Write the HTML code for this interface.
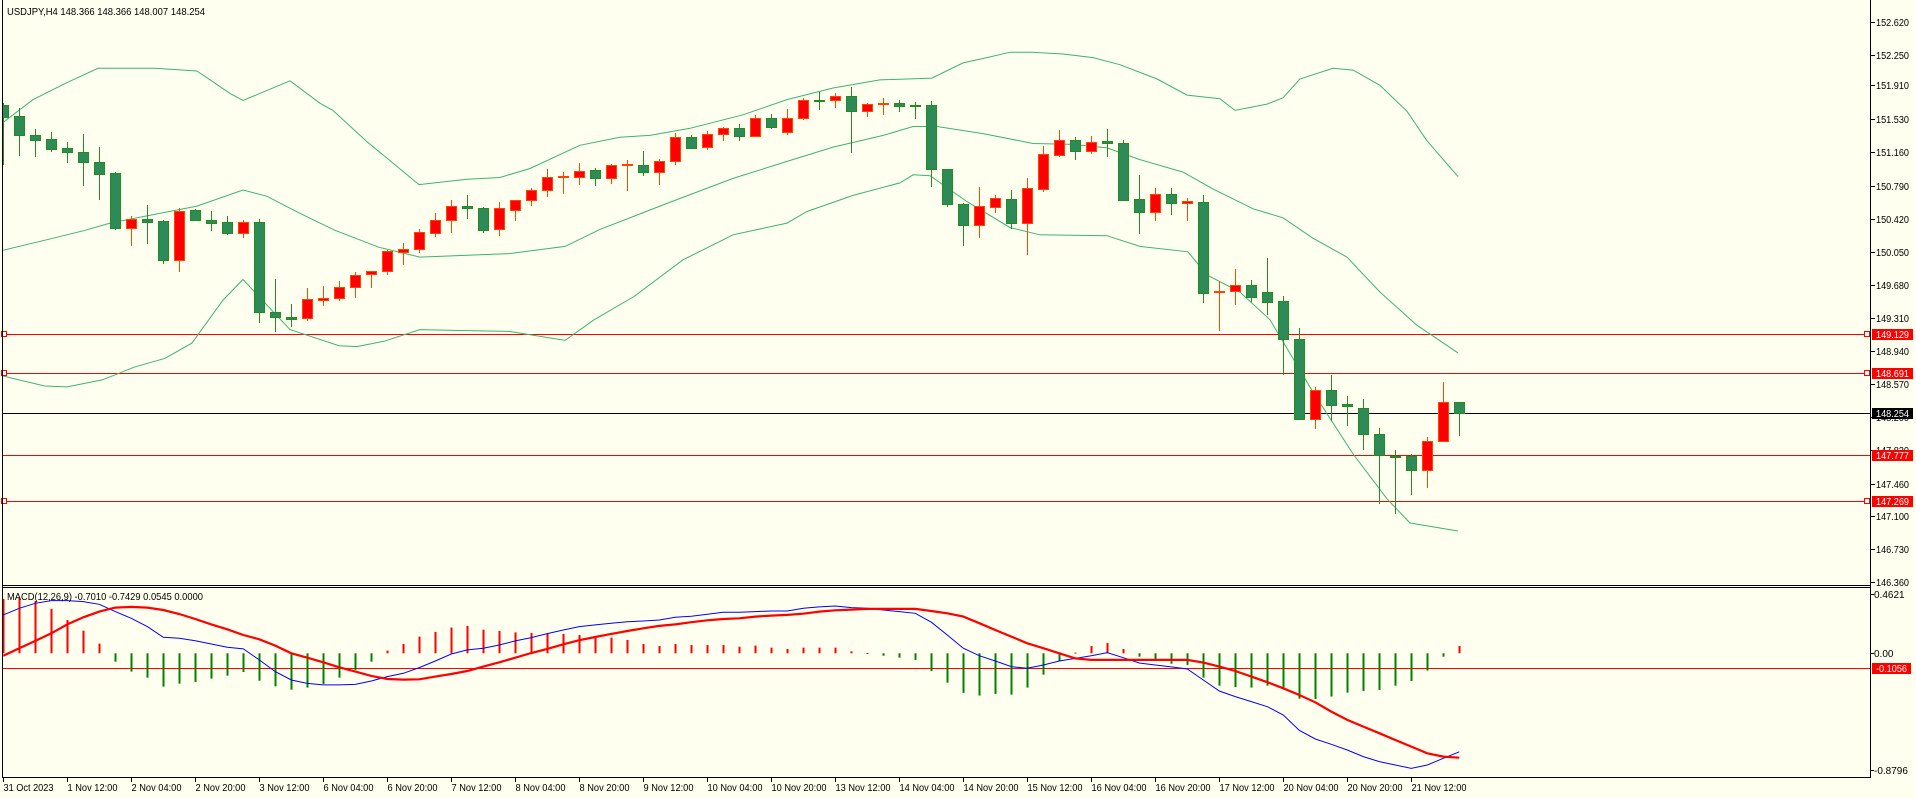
<!DOCTYPE html>
<html><head><meta charset="utf-8"><style>
html,body{margin:0;padding:0;background:#FFFFF0;}
svg{display:block;font-family:"Liberation Sans",sans-serif;}
</style></head><body>
<svg id="chart" width="1916" height="798" viewBox="0 0 1916 798" xmlns="http://www.w3.org/2000/svg">
<rect x="0" y="0" width="1916" height="798" fill="#FFFFF0"/>
<defs>
<clipPath id="mainClip"><rect x="3" y="0" width="1867" height="585"/></clipPath>
<clipPath id="macdClip"><rect x="3" y="588" width="1867" height="189"/></clipPath>
</defs>
<g id="mainG" clip-path="url(#mainClip)"></g>
<g id="macdG" clip-path="url(#macdClip)"></g>
<g id="axisG"></g>
<text x="7" y="15" font-size="10.5" textLength="198" lengthAdjust="spacingAndGlyphs" fill="#000">USDJPY,H4  148.366 148.366 148.007 148.254</text>
<text x="7" y="600" font-size="10.5" textLength="196" lengthAdjust="spacingAndGlyphs" fill="#000">MACD(12,26,9) -0.7010 -0.7429 0.0545 0.0000</text>
</svg>
<script>
const opens = [151.69,151.57,151.35,151.31,151.21,151.16,151.05,150.93,150.32,150.42,150.39,149.96,150.52,150.41,150.38,150.26,150.38,149.38,149.32,149.31,149.51,149.53,149.66,149.80,149.84,150.05,150.08,150.26,150.41,150.56,150.54,150.30,150.52,150.63,150.74,150.88,150.89,150.96,150.87,151.02,151.02,150.94,151.06,151.33,151.22,151.37,151.43,151.34,151.54,151.39,151.55,151.75,151.75,151.79,151.62,151.70,151.71,151.69,151.69,150.98,150.58,150.35,150.55,150.64,150.37,150.75,151.13,151.30,151.18,151.29,151.26,150.64,150.49,150.69,150.60,150.61,149.60,149.61,149.68,149.60,149.50,149.07,148.18,148.50,148.35,148.31,148.01,147.77,147.77,147.61,147.94,148.366];
const highs = [151.71,151.66,151.42,151.39,151.28,151.37,151.22,150.94,150.45,150.57,150.41,150.54,150.53,150.51,150.45,150.40,150.42,149.75,149.47,149.65,149.67,149.72,149.82,149.84,150.07,150.15,150.30,150.48,150.63,150.68,150.55,150.61,150.63,150.76,150.97,150.94,151.04,150.99,151.03,151.08,151.18,151.09,151.38,151.35,151.40,151.44,151.48,151.58,151.59,151.65,151.77,151.83,151.82,151.89,151.71,151.77,151.75,151.72,151.73,150.98,150.59,150.77,150.68,150.74,150.87,151.23,151.41,151.33,151.34,151.42,151.30,150.91,150.76,150.76,150.65,150.68,149.72,149.86,149.73,149.98,149.56,149.20,148.54,148.67,148.44,148.40,148.08,147.83,147.79,147.98,148.59,148.366];
const lows = [151.03,151.13,151.12,151.18,151.05,150.80,150.64,150.30,150.13,150.15,149.93,149.83,150.40,150.29,150.25,150.22,149.27,149.17,149.22,149.29,149.46,149.51,149.54,149.66,149.80,149.91,150.05,150.23,150.27,150.43,150.27,150.24,150.41,150.57,150.67,150.71,150.81,150.80,150.82,150.74,150.91,150.81,151.03,151.21,151.20,151.30,151.30,151.34,151.43,151.37,151.53,151.65,151.67,151.16,151.57,151.59,151.62,151.54,150.78,150.56,150.13,150.22,150.49,150.32,150.03,150.73,151.12,151.09,151.15,151.12,150.63,150.26,150.40,150.47,150.40,149.49,149.18,149.47,149.50,149.36,148.68,148.18,148.08,148.17,148.11,147.85,147.24,147.13,147.34,147.42,147.94,148.007];
const closes = [151.56,151.35,151.30,151.20,151.16,151.05,150.92,150.32,150.42,150.38,149.96,150.51,150.41,150.37,150.26,150.38,149.38,149.32,149.30,149.52,149.53,149.66,149.79,149.84,150.06,150.08,150.27,150.41,150.56,150.54,150.29,150.54,150.63,150.74,150.88,150.90,150.95,150.87,151.02,151.03,150.94,151.06,151.33,151.21,151.37,151.43,151.34,151.54,151.44,151.55,151.75,151.75,151.79,151.62,151.70,151.71,151.68,151.68,150.98,150.58,150.35,150.56,150.65,150.37,150.76,151.14,151.30,151.18,151.28,151.26,150.63,150.49,150.70,150.60,150.62,149.59,149.61,149.68,149.55,149.49,149.07,148.18,148.50,148.34,148.33,148.01,147.78,147.76,147.61,147.94,148.37,148.254];

const upperIdx = [-0.2,1.86,3.98,5.92,9.48,12.1,14.17,14.98,17.92,19.79,20.6,22.73,25.98,28.98,31.04,32.92,36.04,38.54,40.42,42.92,46.23,48.98,51.86,54.79,58.04,59.98,61.48,62.92,64.29,66.23,68.11,69.79,72.11,73.98,76.04,76.98,78.98,79.98,81.04,83.1,84.36,86.04,87.73,88.98,90.92];
const upperBand = [151.47,151.75,151.94,152.10,152.10,152.07,151.82,151.74,151.96,151.71,151.63,151.28,150.80,150.86,150.88,150.98,151.24,151.33,151.35,151.43,151.58,151.75,151.88,151.97,151.99,152.16,152.22,152.28,152.28,152.26,152.22,152.14,151.98,151.80,151.76,151.63,151.70,151.77,151.98,152.10,152.08,151.91,151.62,151.29,150.89];
const middleIdx = [-0.2,2.86,5.11,6.67,12.1,14.98,16.48,18.54,20.73,23.48,26.04,31.61,35.11,37.29,41.48,45.61,48.98,51.86,55.0,56.86,58.36,61.23,64.36,66.86,68.98,71.04,73.73,75.61,78.11,79.98,81.86,83.98,86.04,88.35,90.92];
const middleBand = [150.06,150.19,150.29,150.37,150.56,150.74,150.67,150.48,150.29,150.10,149.99,150.03,150.11,150.30,150.59,150.87,151.06,151.22,151.35,151.45,151.45,151.37,151.26,151.25,151.21,151.08,150.94,150.75,150.53,150.43,150.20,149.99,149.60,149.23,148.92];
const lowerIdx = [-0.2,2.58,3.98,6.21,8.17,10.11,11.79,13.73,14.98,17.92,20.98,22.1,23.79,26.04,28.54,31.61,35.11,36.92,39.42,42.48,45.61,48.98,50.23,53.11,56.04,56.86,57.92,60.23,62.92,64.79,68.98,71.04,74.04,75.23,77.29,79.17,81.86,84.36,86.48,87.92,90.92];
const lowerBand = [148.67,148.55,148.54,148.62,148.76,148.86,149.03,149.51,149.74,149.18,149.00,148.99,149.05,149.18,149.17,149.16,149.06,149.29,149.55,149.96,150.24,150.37,150.50,150.68,150.82,150.91,150.90,150.61,150.32,150.24,150.23,150.11,150.05,149.79,149.60,149.29,148.48,147.79,147.29,147.02,146.93];

const hist = [0.387,0.396,0.372,0.316,0.237,0.161,0.069,-0.059,-0.130,-0.173,-0.237,-0.216,-0.204,-0.180,-0.159,-0.133,-0.195,-0.235,-0.259,-0.244,-0.218,-0.173,-0.119,-0.059,0.019,0.066,0.119,0.152,0.183,0.195,0.168,0.159,0.149,0.145,0.142,0.138,0.130,0.116,0.112,0.095,0.066,0.052,0.066,0.059,0.059,0.059,0.047,0.055,0.040,0.031,0.040,0.040,0.040,0.014,0.002,-0.017,-0.031,-0.047,-0.126,-0.209,-0.282,-0.301,-0.289,-0.294,-0.244,-0.152,-0.057,0.005,0.052,0.074,0.031,-0.024,-0.040,-0.074,-0.083,-0.173,-0.230,-0.240,-0.244,-0.230,-0.251,-0.323,-0.325,-0.308,-0.280,-0.268,-0.261,-0.230,-0.197,-0.123,-0.024,0.052];
const macdMain = [0.273,0.320,0.356,0.375,0.375,0.368,0.349,0.297,0.249,0.190,0.114,0.107,0.090,0.066,0.043,0.031,-0.047,-0.130,-0.190,-0.214,-0.225,-0.225,-0.221,-0.197,-0.166,-0.142,-0.102,-0.055,-0.005,0.024,0.036,0.059,0.088,0.112,0.140,0.166,0.190,0.202,0.214,0.225,0.230,0.237,0.256,0.263,0.278,0.292,0.292,0.297,0.301,0.301,0.320,0.330,0.337,0.325,0.320,0.308,0.297,0.285,0.221,0.130,0.036,-0.017,-0.055,-0.095,-0.107,-0.083,-0.055,-0.036,-0.017,0.005,-0.031,-0.069,-0.083,-0.097,-0.112,-0.190,-0.268,-0.308,-0.344,-0.380,-0.439,-0.548,-0.610,-0.648,-0.688,-0.735,-0.771,-0.795,-0.819,-0.795,-0.747,-0.701];
const macdSignal = [-0.017,0.036,0.088,0.142,0.206,0.256,0.297,0.325,0.330,0.325,0.308,0.280,0.244,0.206,0.171,0.130,0.100,0.055,0.000,-0.031,-0.064,-0.100,-0.130,-0.161,-0.183,-0.187,-0.185,-0.166,-0.147,-0.126,-0.095,-0.064,-0.031,0.002,0.031,0.064,0.093,0.116,0.138,0.159,0.178,0.195,0.206,0.221,0.235,0.244,0.249,0.261,0.268,0.273,0.282,0.297,0.306,0.311,0.316,0.316,0.316,0.316,0.301,0.285,0.261,0.214,0.166,0.119,0.071,0.036,0.000,-0.036,-0.047,-0.047,-0.047,-0.047,-0.047,-0.047,-0.047,-0.066,-0.095,-0.126,-0.166,-0.206,-0.249,-0.297,-0.349,-0.415,-0.474,-0.522,-0.569,-0.617,-0.664,-0.712,-0.735,-0.743];

const priceTicks = ['152.620','152.250','151.910','151.530','151.160','150.790','150.420','150.050','149.680','149.310','148.940','148.570','148.200','147.830','147.460','147.100','146.730','146.360'];
const timeLabels = ['31 Oct 2023','1 Nov 12:00','2 Nov 04:00','2 Nov 20:00','3 Nov 12:00','6 Nov 04:00','6 Nov 20:00','7 Nov 12:00','8 Nov 04:00','8 Nov 20:00','9 Nov 12:00','10 Nov 04:00','10 Nov 20:00','13 Nov 12:00','14 Nov 04:00','14 Nov 20:00','15 Nov 12:00','16 Nov 04:00','16 Nov 20:00','17 Nov 12:00','20 Nov 04:00','20 Nov 20:00','21 Nov 12:00'];
const levelLines = [149.129,148.691,147.777,147.269];
const levelMarkers = [true,true,false,true];
const currentPrice = 148.254;
const macdLevel = -0.1056;
const macdAxisTicks = ['0.4621','0.00','-0.8796'];
const macdAxisVals = [0.4621,0,-0.8796];

const NS='http://www.w3.org/2000/svg';
const priceY = p => 318 + (149.31 - p) * 89.5;
const macdY = v => 653.3 - v * 140.5;
const xRaw = i => 3.3 + 16 * i;
const xAt = i => Math.floor(xRaw(i)) + 0.5;
function mk(tag, attrs, parent){const e=document.createElementNS(NS,tag);for(const k in attrs)e.setAttribute(k,attrs[k]);parent.appendChild(e);return e;}
const mainG=document.getElementById('mainG'), macdG=document.getElementById('macdG'), axisG=document.getElementById('axisG');

// horizontal level lines
levelLines.forEach((v,k)=>{
  const y=Math.round(priceY(v))+0.5;
  const l=mk('line',{x1:3,x2:1870,y1:y,y2:y,stroke:'#FF0000','stroke-width':1},mainG);
  
  
});
{
  const y=Math.round(priceY(currentPrice))+0.5;
  const l=mk('line',{x1:3,x2:1870,y1:y,y2:y,stroke:'#000','stroke-width':1},mainG);
  
  
}

// bands
function bandPath(idx, vals, name){
  const pts=idx.map((d,k)=>xRaw(d).toFixed(1)+','+priceY(vals[k]).toFixed(1)).join(' ');
  const p=mk('polyline',{points:pts,fill:'none',stroke:'#3CB371','stroke-width':1},mainG);
  
  
}
bandPath(upperIdx,upperBand,'bollinger-upper');
bandPath(middleIdx,middleBand,'bollinger-middle');
bandPath(lowerIdx,lowerBand,'bollinger-lower');

// candles
opens.forEach((o,i)=>{
  const c=closes[i], h=highs[i], l=lows[i];
  const up=c>o;
  const edge=up?'#FF4500':'#228B22', fill=up?'#FF0000':'#2E8B57';
  const cx=xAt(i);
  const g=mk('g',{},mainG);
  
  
  mk('line',{x1:cx,x2:cx,y1:Math.round(priceY(h)),y2:Math.round(priceY(l))+1,stroke:edge,'stroke-width':1},g);
  const yt=Math.round(priceY(Math.max(o,c))), yb=Math.round(priceY(Math.min(o,c)));
  if(yb-yt<2){
    mk('rect',{x:cx-5.5,y:yt,width:11,height:Math.max(2,yb-yt+1),fill:edge},g);
  } else {
    mk('rect',{x:cx-5,y:yt+0.5,width:10,height:yb-yt,fill:fill,stroke:edge,'stroke-width':1},g);
  }
});

// left/right markers
levelLines.forEach((v,k)=>{
  if(!levelMarkers[k])return;
  const y=Math.round(priceY(v));
  const a=mk('rect',{x:1.5,y:y-2.5,width:5,height:5,fill:'#FFF',stroke:'#FF0000','stroke-width':1},axisG);
  
  
  const b=mk('rect',{x:1864.5,y:y-2.5,width:5,height:5,fill:'#FFF',stroke:'#FF0000','stroke-width':1},axisG);
  
  
});

// MACD
{
  const y=Math.round(macdY(macdLevel))+0.5;
  const l=mk('line',{x1:3,x2:1870,y1:y,y2:y,stroke:'#FF0000','stroke-width':1},macdG);
  
  
}
hist.forEach((v,i)=>{
  const y0=macdY(0), y1=macdY(v);
  const r=mk('rect',{x:xAt(i)-1,y:Math.min(y0,y1),width:2,height:Math.max(1,Math.abs(y1-y0)),fill:v>=0?'#FF0000':'#008000'},macdG);
  
  
});
{
  const pm=mk('polyline',{points:macdMain.map((v,i)=>xRaw(i).toFixed(1)+','+macdY(v).toFixed(1)).join(' '),fill:'none',stroke:'#0000FF','stroke-width':1},macdG);
  
  
  const ps=mk('polyline',{points:macdSignal.map((v,i)=>xRaw(i).toFixed(1)+','+macdY(v).toFixed(1)).join(' '),fill:'none',stroke:'#FF0000','stroke-width':2.2},macdG);
  
  
}

// frame
[[2.5,0,2.5,778],[1870.5,0,1870.5,778],[2,585.5,1871,585.5],[2,587.5,1871,587.5],[2,777.5,1871,777.5]].forEach((s,k)=>{
  const l=mk('line',{x1:s[0],y1:s[1],x2:s[2],y2:s[3],stroke:'#000','stroke-width':1},axisG);
  
  
});

// price axis
priceTicks.forEach(t=>{
  const y=Math.round(priceY(parseFloat(t)));
  mk('line',{x1:1871,x2:1875,y1:y+0.5,y2:y+0.5,stroke:'#000'},axisG);
  const tx=mk('text',{x:1876,y:y+4,'font-size':10,textLength:33,lengthAdjust:'spacingAndGlyphs',fill:'#000'},axisG);
  tx.textContent=t;
  
  
});
function tag(val,y,bg,w){
  const r=mk('rect',{x:1872,y:y-5,width:w,height:11,fill:bg},axisG);
  
  
  const t=mk('text',{x:1876,y:y+4,'font-size':10,textLength:w-8,lengthAdjust:'spacingAndGlyphs',fill:'#FFF'},axisG);
  t.textContent=val;
  
  
}
levelLines.forEach(v=>tag(v.toFixed(3),Math.round(priceY(v)),'#FF0000',41));
tag(currentPrice.toFixed(3),Math.round(priceY(currentPrice)),'#000',41);

// macd axis
macdAxisVals.forEach((v,k)=>{
  let y=Math.round(macdY(v));
  if(k===0)y=594; if(k===2)y=770;
  mk('line',{x1:1871,x2:1874,y1:y+0.5,y2:y+0.5,stroke:'#000'},axisG);
  const tx=mk('text',{x:1874,y:y+4,'font-size':10,fill:'#000'},axisG);
  tx.textContent=macdAxisTicks[k];
  
  
});
tag(macdLevel.toFixed(4),Math.round(macdY(macdLevel)),'#FF0000',39);

// time axis
timeLabels.forEach((t,k)=>{
  const x=Math.floor(xRaw(k*4))+0.5;
  mk('line',{x1:x,x2:x,y1:778,y2:782,stroke:'#000'},axisG);
  const tx=mk('text',{x:x,y:791,'font-size':10,fill:'#000',textLength:t.length>11?55:50,lengthAdjust:'spacingAndGlyphs'},axisG);
  tx.textContent=t;
  
  
});
</script>
</body></html>
